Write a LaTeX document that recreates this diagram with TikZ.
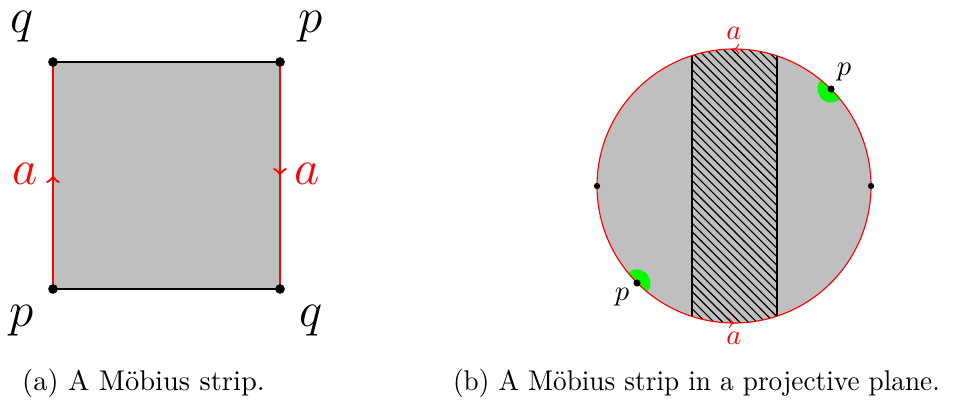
\documentclass[tikz,border=0pt]{standalone}
\usetikzlibrary{decorations.markings,patterns}
\begin{document}
\begin{tikzpicture}[x=0.351pt,y=-0.351pt,
  bigdot/.style={circle,fill=black,inner sep=0pt,minimum size=3.4pt},
  smalldot/.style={circle,fill=black,inner sep=0pt,minimum size=2.2pt},
  pdot/.style={circle,fill=black,inner sep=0pt,minimum size=2.5pt},
  biglabel/.style={font=\LARGE,inner sep=0pt},
  smalllabel/.style={inner sep=0pt},
  edgeline/.style={thick},
  midarrow/.style={postaction={decorate},decoration={markings,mark=at position 0.5 with {\arrow{>}}}},
  circarrows/.style={postaction={decorate},decoration={markings,
     mark=at position 0.25 with {\arrow{>}},mark=at position 0.75 with {\arrow{>}}}},
  caption/.style={inner sep=0pt}]
\useasboundingbox (0,0) rectangle (974,403);
% ---- (a) square
\coordinate (A) at (53,62);
\coordinate (B) at (280,62);
\coordinate (C) at (280,289);
\coordinate (D) at (53,289);
\fill[lightgray] (A) rectangle (C);
\draw[edgeline] (A) -- (B);
\draw[edgeline] (D) -- (C);
\draw[edgeline,red,midarrow] (D) -- (A);
\draw[edgeline,red,midarrow] (B) -- (C);
\node[bigdot] (dA) at (A) {};
\node[bigdot] (dB) at (B) {};
\node[bigdot] (dC) at (C) {};
\node[bigdot] (dD) at (D) {};
\node[biglabel] (lqA) at (22,27) {$q$};
\node[biglabel] (lpB) at (311,27) {$p$};
\node[biglabel] (lpD) at (22,321) {$p$};
\node[biglabel] (lqC) at (311,321) {$q$};
\node[biglabel,red] (laL) at (25,174) {$a$};
\node[biglabel,red] (laR) at (307,174) {$a$};
% ---- (b) disc
\coordinate (O) at (734,186);
\fill[lightgray] (O) circle[radius=137];
\begin{scope}
  \clip (O) circle[radius=137];
  \fill[pattern=north west lines] (692,0) rectangle (777,400);
  \draw (692,0) -- (692,400);
  \draw (777,0) -- (777,400);
  \fill[green] (831,89) circle[radius=13.5];
  \fill[green] (637,283) circle[radius=13.5];
\end{scope}
\draw[red,circarrows] (871,186) arc[start angle=0,end angle=-360,radius=137];
\node[pdot] (pT) at (831,89) {};
\node[pdot] (pB) at (637,283) {};
\node[smalldot] (eL) at (597,186) {};
\node[smalldot] (eR) at (871,186) {};
\node[smalllabel] (lpT) at (844,72) {$p$};
\node[smalllabel] (lpBl) at (622,297) {$p$};
\node[smalllabel,red] (laT) at (734,33) {$a$};
\node[smalllabel,red] (laB) at (734,338) {$a$};
% ---- captions
\node[caption] (capA) at (143.5,383) {(a) A Möbius strip.};
\node[caption] (capB) at (696.5,383) {\scalebox{0.957}[1]{(b) A Möbius strip in a projective plane.}};
\end{tikzpicture}
\end{document}
